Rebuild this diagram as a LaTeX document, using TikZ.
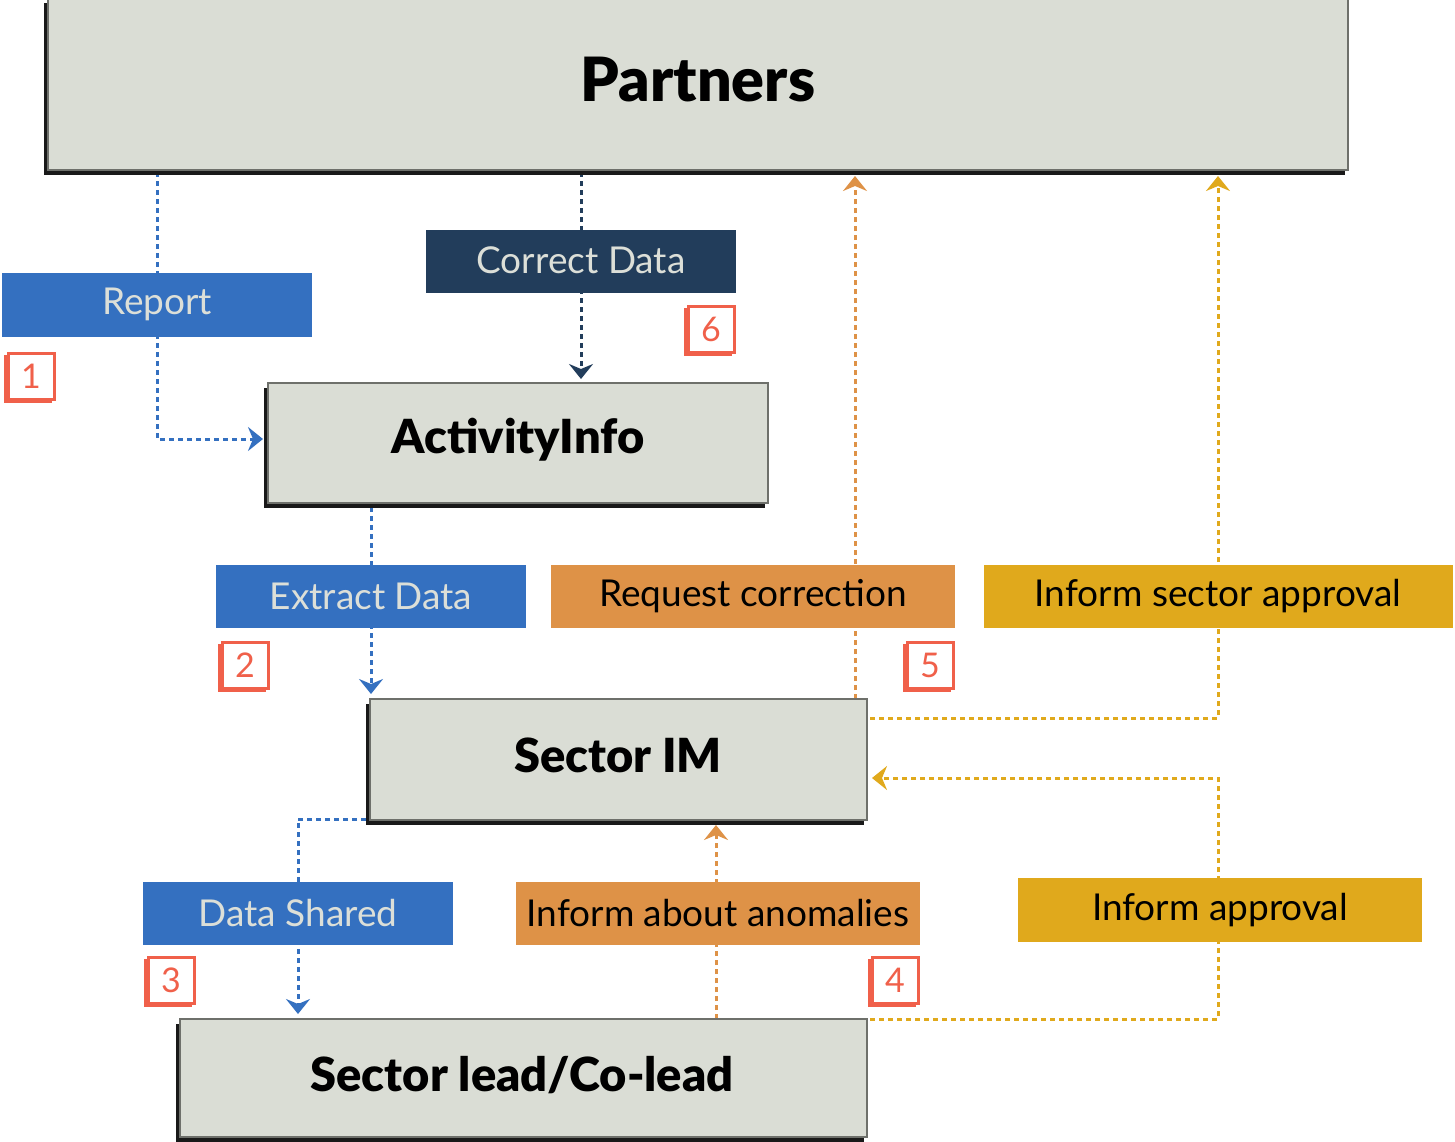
\documentclass[tikz,border=0pt]{standalone}
\usepackage{fontspec}
\setmainfont{Lato}
\newfontfamily\heavyfont{Lato Black}
\usetikzlibrary{arrows.meta}
\definecolor{boxgray}{HTML}{DADDD5}
\definecolor{boxline}{HTML}{6E706B}
\definecolor{blueL}{HTML}{3470C0}
\definecolor{navy}{HTML}{223D5B}
\definecolor{orangeL}{HTML}{DE9247}
\definecolor{goldL}{HTML}{E0A91C}
\definecolor{redN}{HTML}{F0604A}
\definecolor{lighttext}{HTML}{DCDFD8}
\tikzset{
  mainbox/.style={draw=boxline, line width=1.2pt, fill=boxgray},
  shadowbox/.style={fill=black!90},
  labelbox/.style={inner sep=0pt, font=\fontsize{37}{42}\selectfont},
  numbox/.style={draw=redN, line width=3pt, fill=white, inner sep=0pt, minimum width=46pt, minimum height=46pt, text=redN, font=\fontsize{34}{40}\selectfont},
  flow/.style={line width=3pt, dash pattern=on 5pt off 4pt},
  tip/.style={-{Stealth[length=15pt,width=24pt,inset=5pt]}},
  title/.style={font=\heavyfont\fontsize{61}{66}\selectfont},
  subtitle/.style={font=\heavyfont\fontsize{47}{52}\selectfont}
}
\newcommand{\shbox}[5]{% name, x1, y1, x2, y2
  \fill[shadowbox] (#2-4,#3+5) rectangle (#4-3,#5+5);
  \draw[mainbox] (#2,#3) rectangle (#4,#5);
  \coordinate (#1) at ({(#2+#4)/2},{(#3+#5)/2});
}
\newcommand{\numb}[4]{% name, cx, cy, text
  \fill[redN] (#2-27,#3-21) rectangle (#2+21,#3+27);
  \node[numbox] (#1) at (#2,#3) {#4};
}
\begin{document}
\begin{tikzpicture}[x=1pt,y=-1pt]
\useasboundingbox (0,0) rectangle (1455,1141);

% connectors (drawn first, so labels sit on top)
\coordinate (pRep) at (157,172);
\coordinate (rep1) at (157,439);
\coordinate (aiL) at (263,439);
\draw[flow, blueL, tip] (pRep) -- (rep1) -- (aiL);

\coordinate (pCor) at (581,172);
\coordinate (aiT) at (581,379);
\draw[flow, navy, tip] (pCor) -- (aiT);

\coordinate (aiB) at (371,507);
\coordinate (imT) at (371,694);
\draw[flow, blueL, tip] (aiB) -- (imT);

\coordinate (imL) at (366,819);
\coordinate (ds1) at (298,819);
\coordinate (slT) at (298,1014);
\draw[flow, blueL, tip] (imL) -- (ds1) -- (slT);

\coordinate (slTop) at (716,1019);
\coordinate (imB) at (716,825);
\draw[flow, orangeL, tip] (slTop) -- (imB);

\coordinate (imTop) at (855,699);
\coordinate (pB1) at (855,176);
\draw[flow, orangeL, tip] (imTop) -- (pB1);

\coordinate (imR1) at (870,718);
\coordinate (isa1) at (1218,718);
\coordinate (pB2) at (1218,176);
\draw[flow, goldL, tip] (imR1) -- (isa1) -- (pB2);

\coordinate (slR) at (870,1019);
\coordinate (ia1) at (1218,1019);
\coordinate (ia2) at (1218,778);
\coordinate (imR2) at (872,778);
\draw[flow, goldL, tip] (slR) -- (ia1) -- (ia2) -- (imR2);

% main boxes
\shbox{partners}{48}{-2}{1348}{170}
\node[title] at (698,80) {Partners};
\shbox{activity}{268}{383}{768}{503}
\node[subtitle] at (518,440) {ActivityInfo};
\shbox{sectorim}{370}{699}{867}{820}
\node[subtitle] at (618,755) {Sector IM};
\shbox{sectorlead}{180}{1019}{867}{1137}
\node[subtitle] at (522,1075) {Sector lead/Co-lead};

% label boxes
\fill[blueL] (2,273) rectangle (312,337);
\node[labelbox, text=lighttext] (lRep) at (157,304) {Report};
\fill[navy] (426,230) rectangle (736,293);
\node[labelbox, text=lighttext] (lCor) at (581,260) {Correct Data};
\fill[blueL] (216,565) rectangle (526,628);
\node[labelbox, text=lighttext] (lExt) at (371,596) {Extract Data};
\fill[orangeL] (551,565) rectangle (955,628);
\node[labelbox, text=black] (lReq) at (753,596) {Request correction};
\fill[goldL] (984,565) rectangle (1453,628);
\node[labelbox, text=black] (lIsa) at (1218,596) {Inform sector approval};
\fill[blueL] (143,882) rectangle (453,945);
\node[labelbox, text=lighttext] (lDs) at (298,913) {Data Shared};
\fill[orangeL] (516,882) rectangle (920,945);
\node[labelbox, text=black] (lIaa) at (718,913) {Inform about anomalies};
\fill[goldL] (1018,878) rectangle (1422,942);
\node[labelbox, text=black] (lIa) at (1220,910) {Inform approval};

% number boxes
\numb{n1}{31}{376}{1}
\numb{n6}{711}{329}{6}
\numb{n2}{245}{665}{2}
\numb{n5}{930}{665}{5}
\numb{n3}{171}{980}{3}
\numb{n4}{895}{980}{4}
\end{tikzpicture}
\end{document}
